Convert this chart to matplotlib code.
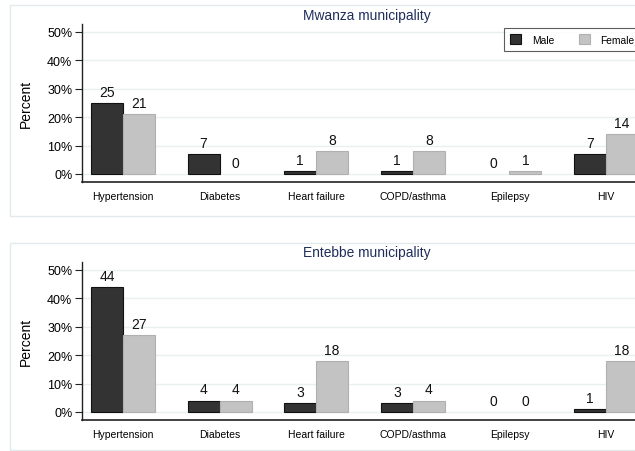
import matplotlib
matplotlib.use("Agg")
import matplotlib.pyplot as plt
from matplotlib.patches import Rectangle, Patch
import numpy as np

categories = ["Hypertension", "Diabetes", "Heart failure", "COPD/asthma", "Epilepsy", "HIV"]
mwanza_male = [25, 7, 1, 1, 0, 7]
mwanza_female = [21, 0, 8, 8, 1, 14]
entebbe_male = [44, 4, 3, 3, 0, 1]
entebbe_female = [27, 4, 18, 4, 0, 18]
mwanza_male_lbl = ["25", "7", "1", "1", "0", "7"]
mwanza_female_lbl = ["21", "0", "8", "8", "1", "14"]
entebbe_male_lbl = ["44", "4", "3", "3", "0", "1"]
entebbe_female_lbl = ["27", "4", "18", "4", "0", "18"]
yticks = [0, 10, 20, 30, 40, 50]
ytick_labels = ["0%", "10%", "20%", "30%", "40%", "50%"]
titles = ["Mwanza municipality", "Entebbe municipality"]

plt.rcParams['font.family'] = ['Liberation Sans', 'DejaVu Sans']

W, H = 635, 452
fig = plt.figure(figsize=(W / 100, H / 100), dpi=100)
fig.patch.set_facecolor("white")

male_c = "#333333"
female_c = "#c3c3c3"
grid_c = "#e8f0f2"
title_c = "#1f2d5a"
panel_c = "#e2eaec"

def px(x, y):
    return x / W, 1 - y / H

panels = [
    dict(ax_top=25, ax_bot=183, box_top=6, box_bot=217, title_y=16,
         male=mwanza_male, female=mwanza_female, ml=mwanza_male_lbl, fl=mwanza_female_lbl, legend=True),
    dict(ax_top=263, ax_bot=421, box_top=244, box_bot=451, title_y=253,
         male=entebbe_male, female=entebbe_female, ml=entebbe_male_lbl, fl=entebbe_female_lbl, legend=False),
]

x_left, x_right = 82, 647
x = np.arange(len(categories))
bw = 0.331

for i, p in enumerate(panels):
    # panel box
    bx0, by0 = px(10, p["box_bot"])
    bx1, by1 = px(800, p["box_top"])
    fig.patches.append(Rectangle((bx0, by0), bx1 - bx0, by1 - by0, transform=fig.transFigure,
                                 facecolor="white", edgecolor=panel_c, lw=1.0, zorder=-5))
    l, b = px(x_left, p["ax_bot"])
    r, t = px(x_right, p["ax_top"])
    ax = fig.add_axes([l, b, r - l, t - b])
    ax.set_zorder(1)
    ax.set_facecolor("none")
    ax.set_xlim(-0.4244, 5.4244)
    ax.set_ylim(-2.82, 52.8)
    for yv in yticks:
        ax.axhline(yv, color=grid_c, lw=1.0, zorder=0)
    mlw = [0.8 if v > 0 else 0 for v in p["male"]]
    flw = [0.8 if v > 0 else 0 for v in p["female"]]
    ax.bar(x - bw / 2, p["male"], bw, color=male_c, edgecolor="#111111", linewidth=mlw, zorder=2)
    ax.bar(x + bw / 2, p["female"], bw, color=female_c, edgecolor="#b0b0b0", linewidth=flw, zorder=2)
    for xi, v, s in zip(x, p["male"], p["ml"]):
        ax.annotate(s, (xi - bw / 2, v), xytext=(0, 3), textcoords="offset points",
                    ha="center", va="bottom", fontsize=10, color="#111111")
    for xi, v, s in zip(x, p["female"], p["fl"]):
        ax.annotate(s, (xi + bw / 2, v), xytext=(0, 3), textcoords="offset points",
                    ha="center", va="bottom", fontsize=10, color="#111111")
    ax.set_yticks(yticks)
    ax.set_yticklabels(ytick_labels, fontsize=9)
    ax.set_xticks(x)
    ax.set_xticklabels(categories, fontsize=7.5)
    ax.tick_params(axis="x", length=0, pad=6.8)
    ax.tick_params(axis="y", length=5, width=0.8, color="#222222", pad=2)
    for s in ["top", "right"]:
        ax.spines[s].set_visible(False)
    ax.spines["left"].set_color("#222222")
    ax.spines["bottom"].set_color("#222222")
    ax.spines["left"].set_linewidth(1.0)
    ax.spines["bottom"].set_linewidth(1.2)
    ax.set_ylabel("Percent", fontsize=10, labelpad=10)
    fig.text(367 / W, 1 - p["title_y"] / H, titles[i], ha="center", va="center",
             fontsize=9.9, color=title_c)
    if p["legend"]:
        handles = [Patch(facecolor=male_c, edgecolor="#111111", lw=0.8, label="Male"),
                   Patch(facecolor=female_c, edgecolor="#b0b0b0", lw=0.8, label="Female")]
        leg = fig.legend(handles=handles, loc="upper left", bbox_to_anchor=px(504, 29),
                         ncol=2, fontsize=7.4, frameon=True, fancybox=False,
                         edgecolor="#333333", handlelength=1.1, handleheight=1.15,
                         handletextpad=1.0, columnspacing=2.4, borderpad=0.6,
                         borderaxespad=0)
        leg.set_zorder(5)
        leg.get_frame().set_linewidth(0.8)

fig.savefig("out.png", dpi=100, facecolor="white")
